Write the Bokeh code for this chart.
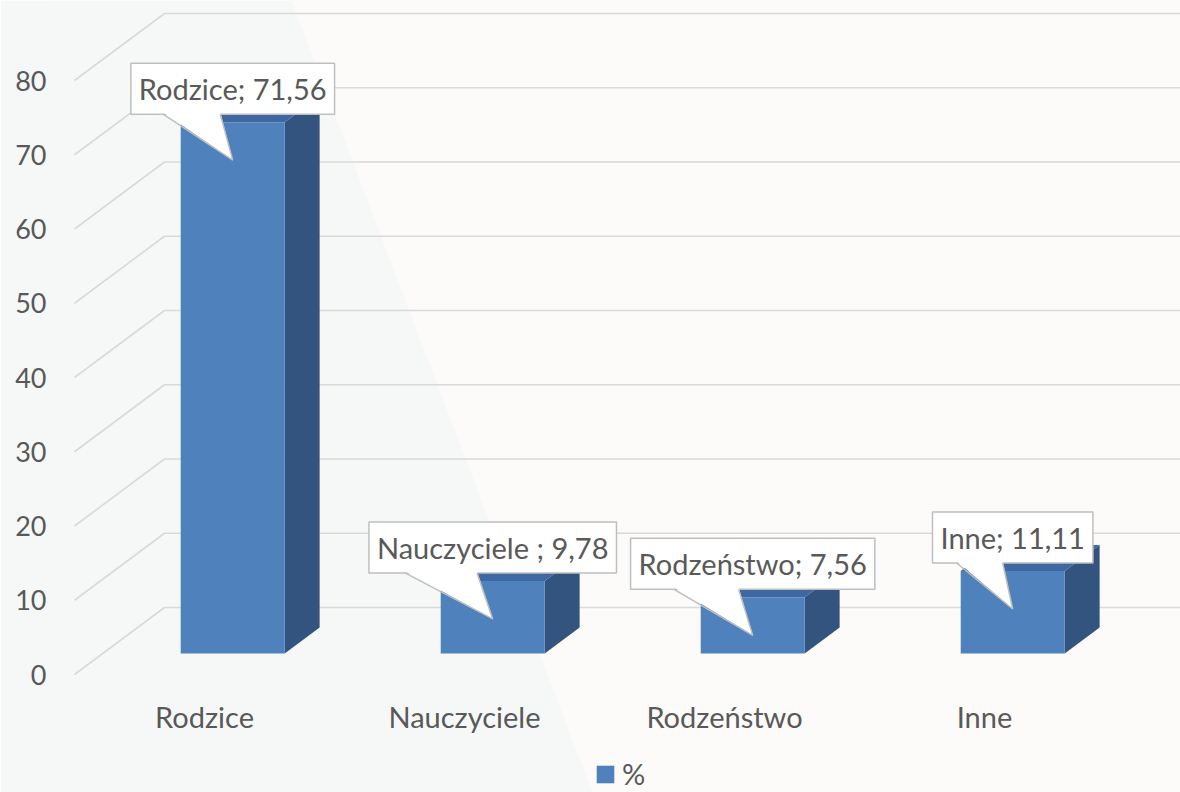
from bokeh.plotting import figure
from bokeh.models import Range1d, FixedTicker, Legend, LegendItem
from bokeh.core.properties import value
from bokeh.embed import file_html
from bokeh.resources import INLINE

# ---------------- data ----------------
categories = ["Rodzice", "Nauczyciele", "Rodzeństwo", "Inne"]
values = [71.56, 9.78, 7.56, 11.11]
callout_names = ["Rodzice", "Nauczyciele ", "Rodzeństwo", "Inne"]
y_ticks = [0, 10, 20, 30, 40, 50, 60, 70, 80]
series_name = "%"

# ---------------- style / geometry ----------------
FONT = "Lato"
TXT = "#595959"
FS = "29px"
FS_TICK = "27px"
FRONT = "#4f81bd"
SIDE = "#33547e"
TOP = "#3d68a2"
GRID = "#d9d9d9"

W, H = 1180, 792
LEFT = 50
FW, FH = W - LEFT, H
PXX = 1 / 260.0      # x data units per pixel
PXY = 1 / 7.425      # y data units per pixel
DX, DY = 90 * PXX, 67 * PXY       # oblique depth offset (front -> back wall)
DF, DB = 21 / 67.0, 47 / 67.0     # bar front / back depth fractions
HALF = 52 * PXX                   # half bar width

x0 = -154 * PXX
x1 = x0 + FW * PXX
y0 = -118 * PXY
y1 = y0 + FH * PXY

p = figure(width=W, height=H, x_range=Range1d(x0, x1), y_range=Range1d(y0, y1),
           x_axis_location=None, toolbar_location=None, output_backend="svg",
           min_border=0, min_border_left=LEFT, outline_line_color=None,
           background_fill_color="#f6f8f8", border_fill_color="#f6f8f8")
p.grid.visible = False

# background decoration (lighter right part)
ft, fb = 0.2133, 0.4796
p.patch(x=[x0 + ft * (x1 - x0), x1 + 1, x1 + 1, x0 + fb * (x1 - x0)],
        y=[y1, y1, y0, y0], fill_color="#fcfbfa", line_color=None)

# y axis
ax = p.yaxis[0]
ax.ticker = FixedTicker(ticks=y_ticks)
ax.axis_line_color = None
ax.major_tick_line_color = None
ax.minor_tick_line_color = None
ax.major_tick_out = 0
ax.major_tick_in = 0
ax.major_label_standoff = 4
ax.major_label_text_font = FONT
ax.major_label_text_font_size = FS_TICK
ax.major_label_text_color = TXT

# back wall + side wall gridlines
wall_left = -0.5
gx, gy = [], []
for t in y_ticks:
    gx.append([wall_left, wall_left + DX, x1 + 1])
    gy.append([t, t + DY, t + DY])
p.multi_line(xs=gx, ys=gy, line_color=GRID, line_width=1.6)

idx = list(range(len(categories)))

# bars (3D)
side_x, side_y, top_x, top_y = [], [], [], []
for i, v in zip(idx, values):
    xlf, xrf = i - HALF + DF * DX, i + HALF + DF * DX
    xlb, xrb = i - HALF + DB * DX, i + HALF + DB * DX
    side_x.append([xrf, xrb, xrb, xrf])
    side_y.append([DF * DY, DB * DY, v + DB * DY, v + DF * DY])
    top_x.append([xlf, xrf, xrb, xlb])
    top_y.append([v + DF * DY, v + DF * DY, v + DB * DY, v + DB * DY])
p.patches(xs=side_x, ys=side_y, fill_color=SIDE, line_color=None)
p.patches(xs=top_x, ys=top_y, fill_color=TOP, line_color=None)
front = p.vbar(x=[i + DF * DX for i in idx], width=2 * HALF, bottom=DF * DY,
               top=[v + DF * DY for v in values], fill_color=FRONT, line_color=None)

# category labels
p.text(x=idx, y=[-42 * PXY] * len(idx), text=categories, text_align="center",
       text_baseline="middle", text_font=value(FONT), text_font_size=FS, text_color=TXT)

# callouts
def fmt(v):
    return f"{v:.2f}".replace(".", ",")

texts = [f"{n}; {fmt(v)}" for n, v in zip(callout_names, values)]
cx = [i + DF * DX for i in idx]
box_bottom = [v + DF * DY + 8 * PXY for v in values]
p.text(x=cx, y=box_bottom, text=texts, anchor="bottom_center",
       text_font=value(FONT), text_font_size=FS, text_color=TXT,
       background_fill_color="white", border_line_color="#bfbfbf",
       border_line_width=1.5, padding=8)

px, py, lx, ly = [], [], [], []
for c, v, t, bb in zip(cx, values, texts, box_bottom):
    w = len(t) * 13.5 + 19
    bl = c - 0.335 * w * PXX
    br = c - 0.06 * w * PXX
    tipy = v + DF * DY - 38 * PXY
    px.append([bl, br, c])
    py.append([bb + 2 * PXY, bb + 2 * PXY, tipy])
    lx.append([bl, c, br])
    ly.append([bb, tipy, bb])
p.patches(xs=px, ys=py, fill_color="white", line_color=None)
p.multi_line(xs=lx, ys=ly, line_color="#bfbfbf", line_width=1.5)

legend = Legend(items=[LegendItem(label=series_name, renderers=[front])],
                location=(544, 1), glyph_width=22, glyph_height=22,
                label_text_font=FONT, label_text_font_size=FS, label_text_color=TXT,
                background_fill_alpha=0, border_line_color=None, padding=0, margin=0,
                label_standoff=6, spacing=0)
p.add_layout(legend, "center")

open("out.html", "w").write(file_html(p, INLINE))
